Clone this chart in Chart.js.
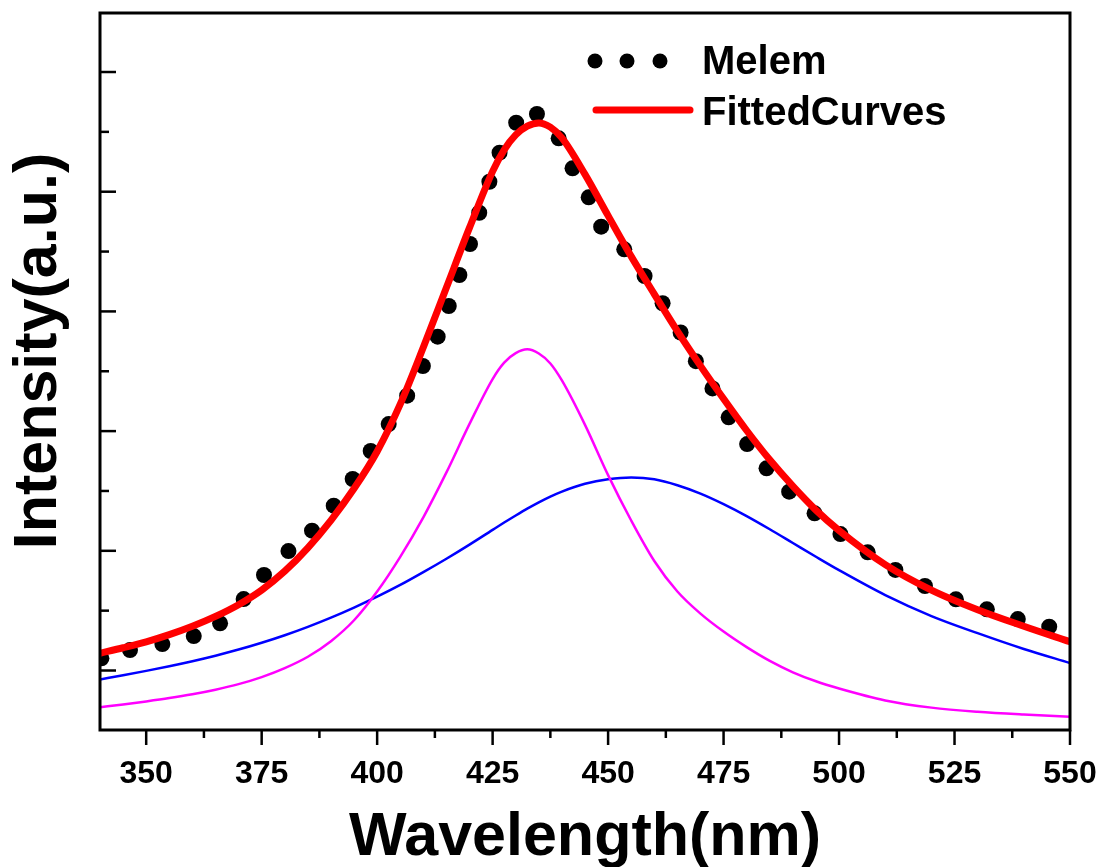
<!DOCTYPE html>
<html>
<head>
<meta charset="utf-8">
<script src="https://cdn.jsdelivr.net/npm/chart.js@4/dist/chart.umd.min.js"></script>
<style>
  html, body { margin: 0; padding: 0; background: #fff; }
  #wrap { width: 1103px; height: 867px; position: relative; }
</style>
</head>
<body>
<div id="wrap"><canvas id="plChart"></canvas></div>
<script>
// Melem photoluminescence (dots)
const melemWavelength = [340.3, 346.5, 353.5, 360.3, 366.0, 371.1, 375.5, 380.8, 385.9, 390.6,
  394.7, 398.6, 402.5, 406.5, 409.9, 413.1, 415.5, 417.8, 420.1, 422.1,
  424.3, 426.5, 430.1, 434.6, 439.3, 442.3, 445.8, 448.5, 453.5, 457.9,
  461.8, 465.7, 469.0, 472.6, 476.1, 480.1, 484.3, 489.2, 494.7, 500.3,
  506.2, 512.2, 518.6, 525.3, 532.0, 538.7, 545.5];
const melemIntensity = [1102, 1171, 1221, 1288, 1394, 1597, 1798, 1998, 2168, 2377,
  2600, 2834, 3059, 3296, 3544, 3789, 4045, 4304, 4563, 4824,
  5083, 5326, 5576, 5649, 5446, 5195, 4953, 4708, 4519, 4296,
  4068, 3824, 3584, 3357, 3115, 2892, 2689, 2494, 2313, 2140,
  1987, 1840, 1706, 1595, 1511, 1430, 1366];

// fitted curves, sampled on a common wavelength grid (denser around the peak)
const fitWavelength = [340, 345, 350, 355, 360, 365, 370, 375, 380, 385,
  390, 395, 400, 405, 410, 415, 420, 425, 427.5, 430,
  432.5, 435, 437.5, 440, 445, 450, 455, 460, 465, 470,
  475, 480, 485, 490, 495, 500, 510, 520, 530, 540, 550];
const fittedTotal = [1144, 1190, 1240, 1300, 1370, 1452, 1550, 1672, 1830, 2025,
  2255, 2520, 2830, 3225, 3700, 4200, 4700, 5170, 5350, 5475,
  5548, 5575, 5540, 5450, 5145, 4800, 4460, 4145, 3835, 3545,
  3270, 3005, 2760, 2540, 2340, 2170, 1885, 1672, 1508, 1370, 1240];
const peakNarrow = [693, 716, 742, 770, 802, 840, 886, 945, 1020, 1115,
  1245, 1420, 1660, 1950, 2280, 2655, 3060, 3435, 3572, 3651,
  3683, 3648, 3565, 3423, 3052, 2632, 2253, 1915, 1660, 1475,
  1325, 1195, 1080, 985, 910, 850, 750, 690, 655, 632, 614];
const peakBroad = [925, 960, 997, 1036, 1078, 1124, 1175, 1232, 1295, 1365,
  1442, 1526, 1617, 1715, 1822, 1934, 2052, 2175, 2236, 2295,
  2352, 2405, 2453, 2495, 2560, 2598, 2613, 2598, 2548, 2478,
  2390, 2290, 2180, 2065, 1950, 1838, 1630, 1455, 1312, 1180, 1063];

// axis ticks
const xMajorTicks = [350, 375, 400, 425, 450, 475, 500, 525, 550];
const xMinorTicks = [362.5, 387.5, 412.5, 437.5, 462.5, 487.5, 512.5, 537.5];
const yMajorTicks = [1000, 2000, 3000, 4000, 5000, 6000];
const yMinorTicks = [1500, 2500, 3500, 4500, 5500];

const FONT = '"Liberation Sans", Arial, Helvetica, sans-serif';

const toPoints = (xs, ys) => xs.map((x, i) => ({ x: x, y: ys[i] }));

// Frame, inward/outward ticks, labels, titles and the legend
const framePlugin = {
  id: 'frame',
  afterDraw(chart) {
    const { ctx, chartArea: a, scales: { x, y } } = chart;
    ctx.save();
    ctx.strokeStyle = '#000';
    ctx.fillStyle = '#000';

    ctx.lineWidth = 3;
    ctx.strokeRect(a.left, a.top, a.right - a.left, a.bottom - a.top);

    const seg = (x1, y1, x2, y2) => {
      ctx.beginPath();
      ctx.moveTo(x1, y1);
      ctx.lineTo(x2, y2);
      ctx.stroke();
    };

    ctx.lineWidth = 2.5;
    xMajorTicks.forEach(v => { const px = x.getPixelForValue(v); seg(px, a.bottom, px, a.bottom + 15); });
    xMinorTicks.forEach(v => { const px = x.getPixelForValue(v); seg(px, a.bottom, px, a.bottom + 8); });
    yMajorTicks.forEach(v => { const py = y.getPixelForValue(v); seg(a.left, py, a.left + 16, py); });
    yMinorTicks.forEach(v => { const py = y.getPixelForValue(v); seg(a.left, py, a.left + 9, py); });

    // tick labels
    ctx.font = 'bold 32px ' + FONT;
    ctx.textAlign = 'center';
    ctx.textBaseline = 'alphabetic';
    xMajorTicks.forEach(v => ctx.fillText(String(v), x.getPixelForValue(v), a.bottom + 53));

    // axis titles
    ctx.font = 'bold 61px ' + FONT;
    ctx.fillText('Wavelength(nm)', (a.left + a.right) / 2, 855);
    ctx.save();
    ctx.translate(56, 351);
    ctx.rotate(-Math.PI / 2);
    ctx.fillText('Intensity(a.u.)', 0, 0);
    ctx.restore();

    // legend
    [595, 627, 660].forEach(cx => {
      ctx.beginPath();
      ctx.arc(cx, 61, 7.5, 0, Math.PI * 2);
      ctx.fill();
    });
    ctx.strokeStyle = '#ff0000';
    ctx.lineWidth = 7;
    ctx.lineCap = 'round';
    seg(596, 110, 690, 110);
    ctx.font = 'bold 40px ' + FONT;
    ctx.textAlign = 'left';
    ctx.fillText('Melem', 702, 74);
    ctx.fillText('FittedCurves', 702, 125);
    ctx.restore();
  }
};

new Chart(document.getElementById('plChart'), {
  type: 'line',
  data: {
    datasets: [
      {
        label: 'FittedCurves',
        data: toPoints(fitWavelength, fittedTotal),
        borderColor: '#ff0000',
        borderWidth: 7,
        pointRadius: 0,
        cubicInterpolationMode: 'monotone',
        order: 1
      },
      {
        label: 'Melem',
        data: toPoints(melemWavelength, melemIntensity),
        showLine: false,
        pointRadius: 8,
        pointBackgroundColor: '#000',
        pointBorderWidth: 0,
        order: 2
      },
      {
        label: 'Peak 1',
        data: toPoints(fitWavelength, peakNarrow),
        borderColor: '#ff00ff',
        borderWidth: 2.5,
        pointRadius: 0,
        cubicInterpolationMode: 'monotone',
        order: 3
      },
      {
        label: 'Peak 2',
        data: toPoints(fitWavelength, peakBroad),
        borderColor: '#0000ff',
        borderWidth: 2.5,
        pointRadius: 0,
        cubicInterpolationMode: 'monotone',
        order: 4
      }
    ]
  },
  options: {
    responsive: true,
    maintainAspectRatio: false,
    animation: false,
    layout: { padding: { left: 100, right: 33, top: 13, bottom: 137 } },
    scales: {
      x: { type: 'linear', min: 340, max: 550, display: false },
      y: { type: 'linear', min: 503, max: 6493, display: false }
    },
    plugins: {
      legend: { display: false },
      tooltip: { enabled: false }
    }
  },
  plugins: [framePlugin]
});
</script>
</body>
</html>
